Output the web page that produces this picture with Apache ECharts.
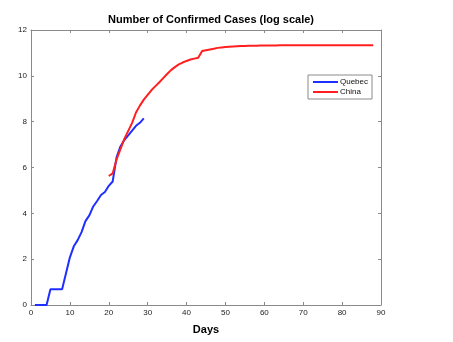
<!DOCTYPE html>
<html>
<head>
<meta charset="utf-8">
<script src="https://cdn.jsdelivr.net/npm/echarts@6/dist/echarts.min.js"></script>
<style>html,body{margin:0;padding:0;background:#fff}#c{width:453px;height:342px}</style>
</head>
<body>
<div id="c"></div>
<script>
var titleText = 'Number of Confirmed Cases (log scale)';
var xAxisName = 'Days';
var seriesNames = ['Quebec', 'China'];

var quebecDays = [1,2,3,4,5,6,7,8,9,10,11,12,13,14,15,16,17,18,19,20,21,22,23,24,25,26,27,28,29];
var quebecValues = [0,0,0,0,0.69,0.69,0.69,0.69,1.39,2.08,2.56,2.83,3.18,3.66,3.91,4.3,4.54,4.8,4.93,5.2,5.39,6.44,6.92,7.2,7.4,7.61,7.82,7.95,8.14];

var chinaDays = [20,21,22,23,24,25,26,27,28,29,30,31,32,33,34,35,36,37,38,39,40,41,42,43,44,45,46,47,48,49,50,51,52,53,54,55,56,57,58,59,60,61,62,63,64,65,66,67,68,69,70,71,72,73,74,75,76,77,78,79,80,81,82,83,84,85,86,87,88];
var chinaValues = [5.63,5.74,6.35,6.8,7.25,7.6,7.95,8.4,8.7,8.96,9.17,9.38,9.55,9.72,9.9,10.08,10.25,10.38,10.5,10.58,10.65,10.71,10.75,10.79,11.08,11.12,11.15,11.18,11.22,11.24,11.26,11.27,11.28,11.29,11.3,11.3,11.31,11.31,11.31,11.32,11.32,11.32,11.32,11.32,11.33,11.33,11.33,11.33,11.33,11.33,11.33,11.33,11.33,11.33,11.34,11.34,11.34,11.34,11.34,11.34,11.34,11.34,11.34,11.34,11.34,11.34,11.34,11.34,11.34];

var xTicks = {min: 0, max: 90, interval: 10};
var yTicks = {min: 0, max: 12, interval: 2};

function pairs(xs, ys) { return xs.map(function (x, i) { return [x, ys[i]]; }); }

var font = 'Liberation Sans, Arial, Helvetica, sans-serif';
var frame = {lineStyle: {color: '#8a8a8a', width: 1}};
var tick = {show: true, inside: true, length: 3, lineStyle: {color: '#8a8a8a'}};

var chart = echarts.init(document.getElementById('c'), null, {renderer: 'canvas'});
chart.setOption({
  animation: false,
  backgroundColor: '#fff',
  title: {
    text: titleText, left: 206, textAlign: 'center', top: 9,
    textStyle: {fontSize: 11, fontWeight: 'bold', color: '#000', fontFamily: font}
  },
  grid: {left: 31, right: 72, top: 30, bottom: 37, containLabel: false},
  legend: {
    orient: 'vertical', left: 308, top: 75, itemWidth: 25, itemHeight: 2, itemGap: 0,
    icon: 'rect', padding: [2, 4, 2, 5],
    backgroundColor: '#fff', borderColor: '#8a8a8a', borderWidth: 1, borderRadius: 0,
    textStyle: {fontSize: 8, color: '#111', fontFamily: font, padding: [0, 0, 0, -3], lineHeight: 10},
    data: seriesNames
  },
  xAxis: [{
    type: 'value', min: xTicks.min, max: xTicks.max, interval: xTicks.interval,
    name: xAxisName, nameLocation: 'middle', nameGap: 19,
    nameTextStyle: {fontSize: 11, fontWeight: 'bold', color: '#000', fontFamily: font},
    axisLine: Object.assign({show: true, onZero: false}, frame), axisTick: tick,
    axisLabel: {fontSize: 8, color: '#222', margin: 4, fontFamily: font},
    splitLine: {show: false}
  }, {
    type: 'value', position: 'top', min: xTicks.min, max: xTicks.max, interval: xTicks.interval,
    axisLine: Object.assign({show: true, onZero: false}, frame), axisTick: tick,
    axisLabel: {show: false}, splitLine: {show: false}
  }],
  yAxis: [{
    type: 'value', min: yTicks.min, max: yTicks.max, interval: yTicks.interval,
    axisLine: Object.assign({show: true, onZero: false}, frame), axisTick: tick,
    axisLabel: {fontSize: 8, color: '#222', margin: 4, fontFamily: font},
    splitLine: {show: false}
  }, {
    type: 'value', position: 'right', min: yTicks.min, max: yTicks.max, interval: yTicks.interval,
    axisLine: Object.assign({show: true, onZero: false}, frame), axisTick: tick,
    axisLabel: {show: false}, splitLine: {show: false}
  }],
  series: [{
    name: seriesNames[0], type: 'line', data: pairs(quebecDays, quebecValues),
    showSymbol: false, lineStyle: {color: '#1f2fff', width: 2}, itemStyle: {color: '#1f2fff'}
  }, {
    name: seriesNames[1], type: 'line', data: pairs(chinaDays, chinaValues),
    showSymbol: false, lineStyle: {color: '#ff1f1f', width: 2}, itemStyle: {color: '#ff1f1f'}
  }]
});
</script>
</body>
</html>
